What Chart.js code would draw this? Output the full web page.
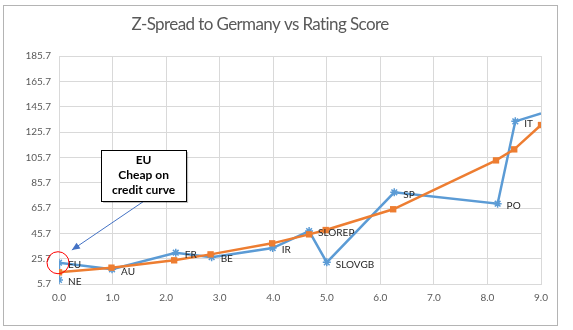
<!DOCTYPE html>
<html>
<head>
<meta charset="utf-8">
<script src="https://cdn.jsdelivr.net/npm/chart.js@4/dist/chart.umd.min.js"></script>
<style>
  html, body { margin: 0; padding: 0; background: #ffffff; }
  body { width: 573px; height: 330px; position: relative; overflow: hidden; }
  #box { position: absolute; left: 3px; top: 5px; width: 553px; height: 319px; border: 1px solid #B4B4B4; background: #fff; }
  #c { display: block; }
</style>
</head>
<body>
<div id="box"><canvas id="c" width="553" height="319"></canvas></div>
<script>
// ---- Data ----
const chartTitle = 'Z-Spread to Germany vs Rating Score';
const countryLabels = ['NE', 'EU', 'AU', 'FR', 'BE', 'IR', 'SLOREP', 'SLOVGB', 'SP', 'PO', 'IT', ''];
const ratingScore  = [0.0, 0.0, 0.99, 2.18, 2.85, 3.99, 4.67, 5.00, 6.26, 8.19, 8.52, 9.0];
const zSpread      = [8.9, 22.5, 17.3, 30.4, 26.9, 34.1, 47.5, 22.8, 78.1, 69.1, 134.1, 140.4];
const curveScore   = [0.0, 0.98, 2.15, 2.83, 3.98, 4.67, 4.98, 6.24, 8.16, 8.50, 9.0];
const curveSpread  = [14.9, 18.6, 24.4, 29.1, 37.8, 44.9, 48.3, 64.7, 103.3, 112.0, 131.2];
const yTickValues  = [5.7, 25.7, 45.7, 65.7, 85.7, 105.7, 125.7, 145.7, 165.7, 185.7];
const xTickValues  = [0, 1, 2, 3, 4, 5, 6, 7, 8, 9];
const noteLines    = ['EU', 'Cheap on', 'credit curve'];
const noteAnchor   = { x: 1.58, y: 111.5 };   // top-centre of the note box (data units)
const arrowFrom    = { x: 1.59, y: 71.2 };
const arrowTo      = { x: 0.24, y: 32.5 };
const circledIndex = 1; // EU

const blue = '#5B9BD5';
const orange = '#ED7D31';
const FONT = 'Lato, "Open Sans", sans-serif';

const bluePts = ratingScore.map((x, i) => ({ x, y: zSpread[i] }));
const orangePts = curveScore.map((x, i) => ({ x, y: curveSpread[i] }));

const overlay = {
  id: 'overlay',
  afterDatasetsDraw(chart) {
    const ctx = chart.ctx;
    const xs = chart.scales.x, ys = chart.scales.y;
    // data labels
    ctx.save();
    ctx.font = '10px ' + FONT;
    ctx.fillStyle = '#262626';
    ctx.textBaseline = 'middle';
    ctx.textAlign = 'left';
    bluePts.forEach((p, i) => {
      if (!countryLabels[i]) return;
      ctx.fillText(countryLabels[i], xs.getPixelForValue(p.x) + 9, ys.getPixelForValue(p.y) + 2);
    });
    ctx.restore();

    // red circle around EU
    ctx.save();
    const cp = bluePts[circledIndex];
    ctx.strokeStyle = '#FF0000';
    ctx.lineWidth = 1;
    ctx.beginPath();
    ctx.arc(xs.getPixelForValue(cp.x) - 1, ys.getPixelForValue(cp.y), 11, 0, Math.PI * 2);
    ctx.stroke();
    ctx.restore();

    // arrow
    ctx.save();
    const ax0 = xs.getPixelForValue(arrowFrom.x), ay0 = ys.getPixelForValue(arrowFrom.y);
    const ax1 = xs.getPixelForValue(arrowTo.x), ay1 = ys.getPixelForValue(arrowTo.y);
    ctx.strokeStyle = '#4472C4';
    ctx.fillStyle = '#4472C4';
    ctx.lineWidth = 1;
    ctx.beginPath(); ctx.moveTo(ax0, ay0); ctx.lineTo(ax1, ay1); ctx.stroke();
    const ang = Math.atan2(ay1 - ay0, ax1 - ax0);
    const L = 8, W = 3.5;
    ctx.beginPath();
    ctx.moveTo(ax1, ay1);
    ctx.lineTo(ax1 - L * Math.cos(ang) + W * Math.sin(ang), ay1 - L * Math.sin(ang) - W * Math.cos(ang));
    ctx.lineTo(ax1 - L * Math.cos(ang) - W * Math.sin(ang), ay1 - L * Math.sin(ang) + W * Math.cos(ang));
    ctx.closePath(); ctx.fill();
    ctx.restore();

    // note box
    ctx.save();
    const bx = xs.getPixelForValue(noteAnchor.x), by = ys.getPixelForValue(noteAnchor.y);
    const bw = 85, bh = 51;
    ctx.fillStyle = 'rgba(0,0,0,0.25)';
    ctx.fillRect(bx - bw / 2 + 2, by + 2, bw, bh);
    ctx.fillStyle = '#fff';
    ctx.fillRect(bx - bw / 2, by, bw, bh);
    ctx.strokeStyle = '#000';
    ctx.lineWidth = 1;
    ctx.strokeRect(Math.round(bx - bw / 2) + 0.5, Math.round(by) + 0.5, bw, bh);
    ctx.fillStyle = '#000';
    ctx.font = 'bold 12px ' + FONT;
    ctx.textAlign = 'center';
    ctx.textBaseline = 'middle';
    noteLines.forEach((t, i) => ctx.fillText(t, bx, by + 10 + i * 15));
    ctx.restore();
  },
  afterDraw(chart) {
    const ctx = chart.ctx;
    ctx.save();
    ctx.font = '17px ' + FONT;
    if ('letterSpacing' in ctx) ctx.letterSpacing = '-0.6px';
    ctx.fillStyle = '#595959';
    ctx.textAlign = 'center';
    ctx.textBaseline = 'middle';
    ctx.fillText(chartTitle, 256, 19);
    ctx.restore();
  }
};

new Chart(document.getElementById('c'), {
  type: 'scatter',
  data: {
    datasets: [
      {
        label: 'Fitted curve',
        data: orangePts,
        showLine: true,
        borderColor: orange,
        backgroundColor: orange,
        borderWidth: 2.5,
        pointStyle: 'rect',
        pointRadius: 4.5,
        pointBorderWidth: 0,
        order: 0
      },
      {
        label: 'Z-Spread',
        data: bluePts,
        showLine: true,
        borderColor: blue,
        backgroundColor: blue,
        borderWidth: 2.5,
        pointStyle: 'star',
        pointRadius: bluePts.map((p, i) => countryLabels[i] ? 4 : 0),
        pointBorderWidth: 1.5,
        order: 1
      }
    ]
  },
  options: {
    responsive: false,
    animation: false,
    events: [],
    layout: { padding: { left: 0, right: 16, top: 50, bottom: 0 } },
    plugins: { legend: { display: false }, tooltip: { enabled: false }, title: { display: false } },
    scales: {
      x: {
        type: 'linear',
        min: 0, max: 9,
        afterBuildTicks(s) { s.ticks = xTickValues.map(v => ({ value: v })); },
        afterFit(s) { s.height = 41; },
        grid: { color: '#D9D9D9', drawTicks: false, lineWidth: 1 },
        border: { color: '#D9D9D9' },
        ticks: { color: '#595959', font: { family: FONT, size: 10 }, padding: 8, callback: v => Number(v).toFixed(1) }
      },
      y: {
        type: 'linear',
        min: 5.7, max: 185.7,
        afterBuildTicks(s) { s.ticks = yTickValues.map(v => ({ value: v })); },
        afterFit(s) { s.width = 55; },
        grid: { color: '#D9D9D9', drawTicks: false, lineWidth: 1 },
        border: { color: '#D9D9D9' },
        ticks: { color: '#595959', font: { family: FONT, size: 10 }, padding: 8, callback: v => Number(v).toFixed(1) }
      }
    }
  },
  plugins: [overlay]
});
</script>
</body>
</html>
